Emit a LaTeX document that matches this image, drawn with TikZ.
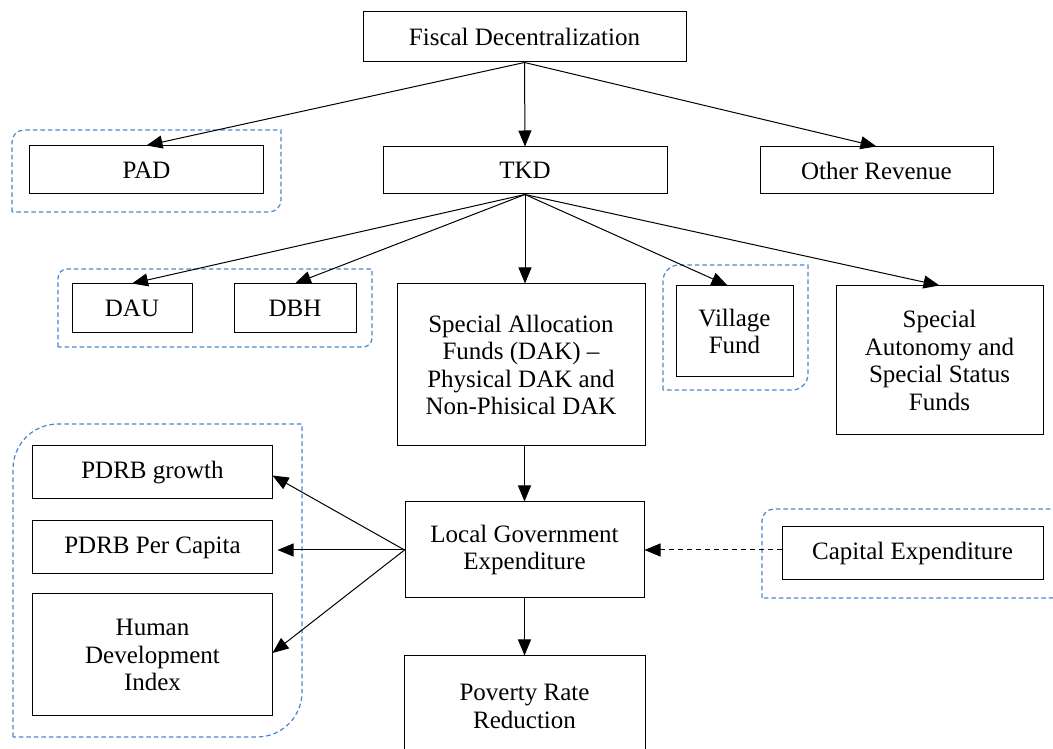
\documentclass[tikz,border=0pt]{standalone}
\usepackage{fontspec}
\setmainfont{Liberation Serif}
\usetikzlibrary{arrows.meta}
\definecolor{grpblue}{RGB}{74,134,204}
\newcommand\dgroup[5]{%
  \draw[grp] (#1,#3) -- (#1,#4-#5) arc[start angle=180,end angle=90,radius=#5]
    -- (#2,#4) -- (#2,#3+#5) arc[start angle=0,end angle=-90,radius=#5] -- cycle;}
\begin{document}
\begin{tikzpicture}[x=1bp,y=1bp,
  box/.style={draw, line width=1bp, align=center, inner sep=0pt,
    font=\fontsize{25bp}{27.5bp}\selectfont},
  arr/.style={-{Triangle[length=16bp,width=13bp]}, line width=1bp},
  darr/.style={arr, dash pattern=on 5bp off 4bp},
  grp/.style={draw=grpblue, dash pattern=on 4.5bp off 3bp, line width=1.2bp}]
\useasboundingbox (0,0) rectangle (1053,749);
\clip (0,0) rectangle (1053,749);

% dashed groups
\dgroup{12}{281}{537}{619}{12}
\dgroup{58}{372}{402}{480}{9}
\dgroup{663}{808}{359}{484}{16}
\dgroup{13}{302}{12}{325}{45}
\dgroup{762}{1064}{151}{240}{12}

% nodes
\node[box, minimum width=323bp, minimum height=50bp] (fd) at (524.5,712) {Fiscal Decentralization};
\node[box, minimum width=233bp, minimum height=48bp] (pad) at (146.5,579) {PAD};
\node[box, minimum width=284bp, minimum height=47bp] (tkd) at (525,578.5) {TKD};
\node[box, minimum width=233bp, minimum height=47bp] (or) at (876.5,578.5) {Other Revenue};
\node[box, minimum width=120bp, minimum height=49bp] (dau) at (132,440.5) {DAU};
\node[box, minimum width=122bp, minimum height=49bp] (dbh) at (295,440.5) {DBH};
\node[box, minimum width=248bp, minimum height=162bp] (dak) at (521,384)
  {Special Allocation\\Funds (DAK) –\\Physical DAK and\\Non-Phisical DAK};
\node[box, minimum width=117bp, minimum height=91bp] (vf) at (734.5,417.5) {Village\\Fund};
\node[box, minimum width=207bp, minimum height=149bp] (sa) at (939.5,388.5)
  {Special\\Autonomy and\\Special Status\\Funds};
\node[box, minimum width=239bp, minimum height=96bp] (lge) at (524.5,199)
  {Local Government\\Expenditure};
\node[box, minimum width=241bp, minimum height=101bp] (pov) at (524.5,42.5)
  {Poverty Rate\\Reduction};
\node[box, minimum width=239bp, minimum height=53bp] (gr) at (152.5,276.5) {PDRB growth};
\node[box, minimum width=239bp, minimum height=53bp] (pc) at (152.5,201.5) {PDRB Per Capita};
\node[box, minimum width=239bp, minimum height=122bp] (hdi) at (152.5,94)
  {Human\\Development\\Index};
\node[box, minimum width=261bp, minimum height=53bp] (cap) at (912.5,195.5) {Capital Expenditure};

% connectors
\draw[arr] (fd.south) -- (pad.north);
\draw[arr] (fd.south) -- (tkd.north);
\draw[arr] (fd.south) -- (or.north);
\draw[arr] (tkd.south) -- (dau.north);
\draw[arr] (tkd.south) -- (dbh.north);
\draw[arr] (tkd.south) -- (tkd.south |- dak.north);
\draw[arr] (tkd.south) -- ([xshift=-7bp]vf.north);
\draw[arr] (tkd.south) -- (sa.north);
\draw[arr] (lge.north |- dak.south) -- (lge.north);
\draw[arr] (lge.west) -- ([yshift=-3bp]gr.east);
\draw[arr, shorten >=5bp] (lge.west) -- (lge.west -| pc.east);
\draw[arr] (lge.west) -- ([yshift=2bp]hdi.east);
\draw[arr] (lge.south) -- (pov.north);
\draw[darr] (cap.west |- lge.east) -- (lge.east);
\end{tikzpicture}
\end{document}
